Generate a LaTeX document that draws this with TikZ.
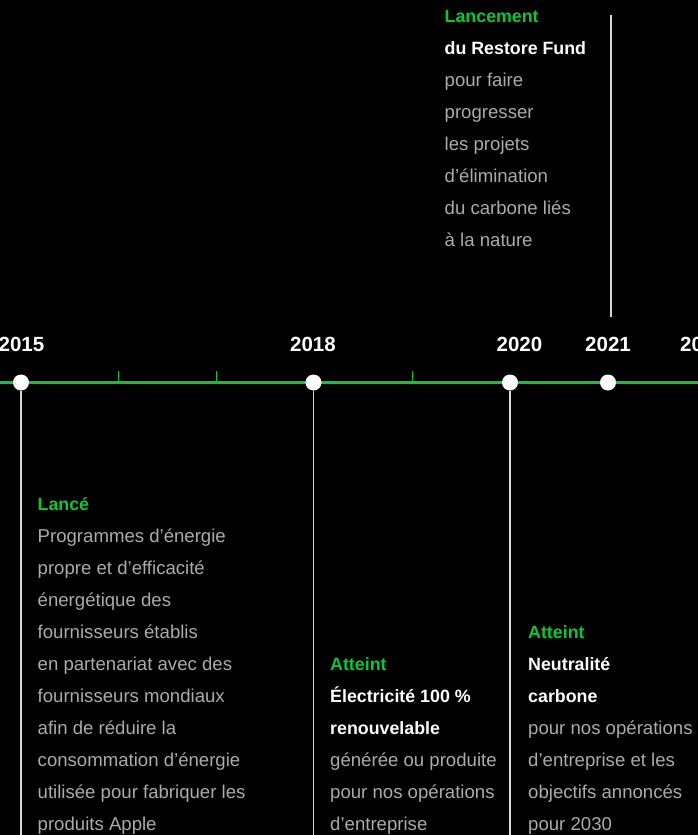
\documentclass[tikz,border=0pt]{standalone}
\usepackage{fontspec}
\setmainfont{Liberation Sans}
\definecolor{tlgreen}{HTML}{0AC834}
\definecolor{tlgray}{HTML}{ABABAB}
\definecolor{tlline}{HTML}{D8D8D8}
\begin{document}
\begin{tikzpicture}[x=1pt,y=-1pt,
  txt/.style={anchor=base west,inner sep=0pt,font=\fontsize{18.6}{20}\selectfont,text=tlgray},
  hd/.style={anchor=base west,inner sep=0pt,font=\fontsize{17.8}{20}\selectfont\bfseries,text=white},
  gr/.style={anchor=base west,inner sep=0pt,font=\fontsize{17.8}{20}\selectfont\bfseries,text=tlgreen},
  yr/.style={anchor=base,inner sep=0pt,font=\fontsize{20.5}{20}\selectfont\bfseries,text=white},
  dot/.style={circle,fill=white,inner sep=0pt,minimum size=16pt},
  vline/.style={draw=tlline,line width=1.3pt},
  tick/.style={draw=tlgreen,line width=1.5pt},
  axis/.style={draw=tlgreen,line width=2.2pt}]
\fill[black] (0,0) rectangle (698,835);
\useasboundingbox (0,0) rectangle (698,835);
% axis
\coordinate (aL) at (0,382.5);
\coordinate (aR) at (698,382.5);
\draw[axis] (aL) -- (aR);
\coordinate (t1) at (118.5,382.5); \coordinate (t1u) at (118.5,370.5);
\coordinate (t2) at (216.5,382.5); \coordinate (t2u) at (216.5,370.5);
\coordinate (t3) at (412.5,382.5); \coordinate (t3u) at (412.5,370.5);
\draw[tick] (t1) -- (t1u);
\draw[tick] (t2) -- (t2u);
\draw[tick] (t3) -- (t3u);
% years
\node[yr] (y15) at (21.5,351) {2015};
\node[yr] (y18) at (313,351) {2018};
\node[yr] (y20) at (519.5,351) {2020};
\node[yr] (y21) at (608,351) {2021};
\node[yr] (y22) at (703,351) {2022};
% vertical lines
\coordinate (b15) at (21,835);
\coordinate (b18) at (313.5,835);
\coordinate (b20) at (510,835);
\coordinate (v21t) at (611,15);
\coordinate (v21b) at (611,317);
\node[dot] (c15) at (21,382.5) {};
\node[dot] (c18) at (313.5,382.5) {};
\node[dot] (c20) at (510,382.5) {};
\node[dot] (c21) at (608,382.5) {};
\draw[vline] (c15.south) -- (b15);
\draw[vline] (c18.south) -- (b18);
\draw[vline] (c20.south) -- (b20);
\draw[vline] (v21t) -- (v21b);
% top block
\node[gr] (a1) at (444.5,22.7) {Lancement};
\node[hd] (a2) at (444.5,54.7) {du Restore Fund};
\node[txt] (a3) at (444.5,86.7) {pour faire};
\node[txt] (a4) at (444.5,118.7) {progresser};
\node[txt] (a5) at (444.5,150.7) {les projets};
\node[txt] (a6) at (444.5,182.7) {d’élimination};
\node[txt] (a7) at (444.5,214.7) {du carbone liés};
\node[txt] (a8) at (444.5,246.7) {à la nature};
% 2015 block
\node[gr] (p1) at (37.5,510) {Lancé};
\node[txt] (p2) at (37.5,542) {Programmes d’énergie};
\node[txt] (p3) at (37.5,574) {propre et d’efficacité};
\node[txt] (p4) at (37.5,606) {énergétique des};
\node[txt] (p5) at (37.5,638) {fournisseurs établis};
\node[txt] (p6) at (37.5,670) {en partenariat avec des};
\node[txt] (p7) at (37.5,702) {fournisseurs mondiaux};
\node[txt] (p8) at (37.5,734) {afin de réduire la};
\node[txt] (p9) at (37.5,766) {consommation d’énergie};
\node[txt] (p10) at (37.5,798) {utilisée pour fabriquer les};
\node[txt] (p11) at (37.5,830) {produits Apple};
% 2018 block
\node[gr] (e1) at (330,670) {Atteint};
\node[hd] (e2) at (330,702) {Électricité 100 \%};
\node[hd] (e3) at (330,734) {renouvelable};
\node[txt] (e4) at (330,766) {générée ou produite};
\node[txt] (e5) at (330,798) {pour nos opérations};
\node[txt] (e6) at (330,830) {d’entreprise};
% 2020 block
\node[gr] (n1) at (528,638) {Atteint};
\node[hd] (n2) at (528,670) {Neutralité};
\node[hd] (n3) at (528,702) {carbone};
\node[txt] (n4) at (528,734) {pour nos opérations};
\node[txt] (n5) at (528,766) {d’entreprise et les};
\node[txt] (n6) at (528,798) {objectifs annoncés};
\node[txt] (n7) at (528,830) {pour 2030};
\end{tikzpicture}
\end{document}
